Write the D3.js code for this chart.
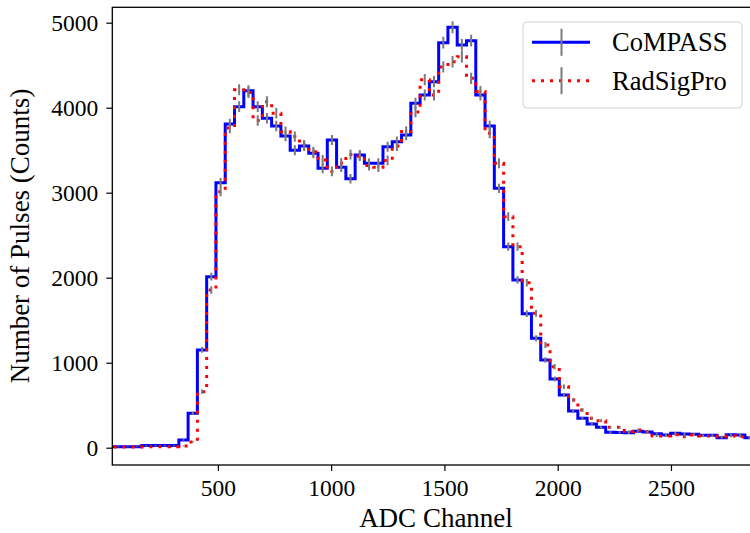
<!DOCTYPE html>
<html>
<head>
<meta charset="utf-8">
<script src="https://d3js.org/d3.v7.min.js"></script>
<style>
  body { margin: 0; background: #fff; }
  text { font-family: "Liberation Serif", "Times New Roman", serif; }
</style>
</head>
<body>
<script>
  // histogram: 100 bins over 0..4096 ADC channels, only the first 70 are in view
  var binWidth = 4096 / 100;
  var binIndex = d3.range(70);

  var compass = [10, 10, 10, 10, 25, 25, 25, 25, 90, 404,
    1150, 2012, 3118, 3808, 4012, 4200, 4012, 3875, 3785, 3667,
    3500, 3550, 3463, 3287, 3620, 3300, 3165, 3444, 3346, 3346,
    3541, 3600, 3679, 4052, 4150, 4306, 4765, 4946, 4738, 4788,
    4150, 3785, 3051, 2365, 1973, 1577, 1287, 1032, 808, 620,
    432, 346, 279, 240, 181, 180, 175, 195, 185, 165,
    150, 170, 160, 158, 146, 146, 118, 153, 150, 118];

  var radsigpro = [8, 8, 8, 8, 10, 10, 10, 12, 20, 68,
    659, 1855, 3012, 3760, 4210, 4180, 3850, 4070, 3935, 3717,
    3660, 3560, 3482, 3385, 3250, 3350, 3450, 3430, 3320, 3300,
    3380, 3550, 3720, 3950, 4330, 4150, 4480, 4540, 4600, 4345,
    4190, 3700, 3346, 2718, 2365, 1941, 1581, 1208, 953, 718,
    561, 443, 346, 318, 240, 240, 190, 208, 188, 137,
    137, 153, 130, 150, 137, 137, 130, 137, 130, 122];

  var xTicks = [500, 1000, 1500, 2000, 2500];
  var yTicks = [0, 1000, 2000, 3000, 4000, 5000];
  var seriesNames = ["CoMPASS", "RadSigPro"];

  var W = 750, H = 533;
  var margin = { left: 112.3, top: 7.3, right: 760, bottom: 465 };

  var svg = d3.select("body").append("svg")
    .attr("width", W)
    .attr("height", H);

  var x = d3.scaleLinear().domain([34, 2893]).range([margin.left, margin.right]);
  var y = d3.scaleLinear().domain([-203.5, 5181]).range([margin.bottom, margin.top]);

  svg.append("clipPath").attr("id", "plotclip")
    .append("rect")
    .attr("x", margin.left).attr("y", margin.top)
    .attr("width", margin.right - margin.left)
    .attr("height", margin.bottom - margin.top);

  var plot = svg.append("g").attr("clip-path", "url(#plotclip)");

  function stepPoints(vals) {
    var pts = vals.map(function (v, i) { return [i * binWidth, v]; });
    pts.push([vals.length * binWidth, vals[vals.length - 1]]);
    return pts;
  }

  var stepLine = d3.line()
    .x(function (d) { return x(d[0]); })
    .y(function (d) { return y(d[1]); })
    .curve(d3.curveStepAfter);

  function drawErrors(vals) {
    plot.append("g").selectAll("line")
      .data(vals)
      .enter()
      .append("line")
      .attr("x1", function (d, i) { return x((i + 0.5) * binWidth); })
      .attr("x2", function (d, i) { return x((i + 0.5) * binWidth); })
      .attr("y1", function (d) { return y(d + Math.sqrt(d)); })
      .attr("y2", function (d) { return y(d - Math.sqrt(d)); })
      .attr("stroke", "#7a7a7a")
      .attr("stroke-width", 2);
  }

  plot.append("path")
    .attr("d", stepLine(stepPoints(compass)))
    .attr("fill", "none")
    .attr("stroke", "#0000ff")
    .attr("stroke-width", 3)
    .attr("stroke-linejoin", "miter");
  drawErrors(compass);

  plot.append("path")
    .attr("d", stepLine(stepPoints(radsigpro)))
    .attr("fill", "none")
    .attr("stroke", "#ff0000")
    .attr("stroke-width", 3)
    .attr("stroke-dasharray", "3,6");
  drawErrors(radsigpro);

  // axes
  var xAxis = svg.append("g")
    .attr("transform", "translate(0," + margin.bottom + ")")
    .call(d3.axisBottom(x).tickValues(xTicks).tickSize(6).tickPadding(8).tickFormat(d3.format("d")));
  var yAxis = svg.append("g")
    .attr("transform", "translate(" + margin.left + ",0)")
    .call(d3.axisLeft(y).tickValues(yTicks).tickSize(6).tickPadding(8).tickFormat(d3.format("d")));

  [xAxis, yAxis].forEach(function (g) {
    g.selectAll("text").style("font-size", "23.5px").attr("fill", "#000");
    g.selectAll("line").attr("stroke", "#000").attr("stroke-width", 1.2);
    g.select(".domain").remove();
  });

  // frame
  svg.append("rect")
    .attr("x", margin.left).attr("y", margin.top)
    .attr("width", margin.right - margin.left)
    .attr("height", margin.bottom - margin.top)
    .attr("fill", "none")
    .attr("stroke", "#000")
    .attr("stroke-width", 1.3);

  // axis labels
  svg.append("text")
    .attr("x", 436).attr("y", 527)
    .attr("text-anchor", "middle")
    .style("font-size", "27px")
    .text("ADC Channel");
  svg.append("text")
    .attr("transform", "translate(29,236) rotate(-90)")
    .attr("text-anchor", "middle")
    .style("font-size", "27px")
    .text("Number of Pulses (Counts)");

  // legend
  var legend = svg.append("g");
  legend.append("rect")
    .attr("x", 523).attr("y", 22)
    .attr("width", 219).attr("height", 86)
    .attr("rx", 4)
    .attr("fill", "#fff").attr("fill-opacity", 0.8)
    .attr("stroke", "#d0d0d0").attr("stroke-width", 1);

  var legendRows = [
    { name: seriesNames[0], color: "#0000ff", dash: null, cy: 42.3 },
    { name: seriesNames[1], color: "#ff0000", dash: "3,6", cy: 80.7 }
  ];
  legendRows.forEach(function (r) {
    legend.append("line")
      .attr("x1", 532).attr("x2", 590)
      .attr("y1", r.cy).attr("y2", r.cy)
      .attr("stroke", r.color).attr("stroke-width", 3)
      .attr("stroke-dasharray", r.dash);
    legend.append("line")
      .attr("x1", 561.5).attr("x2", 561.5)
      .attr("y1", r.cy - 13.5).attr("y2", r.cy + 13.5)
      .attr("stroke", "#7a7a7a").attr("stroke-width", 2);
    legend.append("text")
      .attr("x", 612).attr("y", r.cy + 9)
      .style("font-size", "26.5px")
      .text(r.name);
  });
</script>
</body>
</html>
